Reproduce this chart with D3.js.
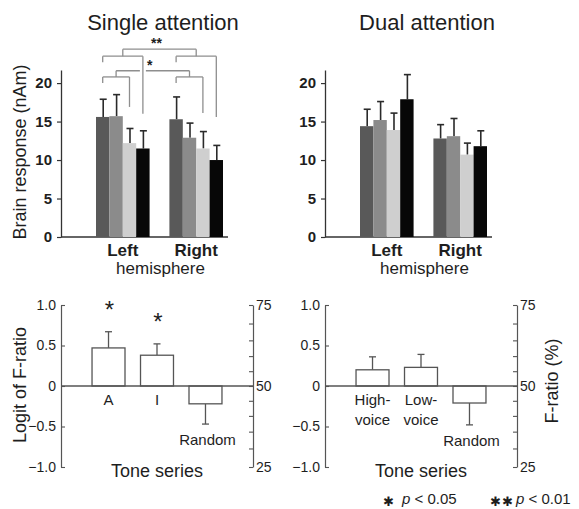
<!DOCTYPE html>
<html lang="en">
<head>
<meta charset="utf-8" />
<title>Brain response and F-ratio</title>
<script src="https://d3js.org/d3.v7.min.js"></script>
<style>
    body { margin: 0; background: white; }
    svg { display: block; }
    text { font-family: 'Liberation Sans', Arial, sans-serif; fill: #1e1e1e; }
</style>
</head>
<body>
<script>
    // ---------- data ----------
    const hemispheres = ["Left", "Right"];
    const series = [0, 1, 2, 3];
    const barColors = ["#595959", "#8b8b8b", "#cfcfcf", "#070707"];

    // brain response (nAm), mean and error
    const singleLeft = [15.6, 15.7, 12.2, 11.5];
    const singleLeftErr = [2.3, 2.8, 1.9, 2.3];
    const singleRight = [15.3, 12.9, 11.5, 10.0];
    const singleRightErr = [2.9, 1.9, 2.2, 1.9];
    const dualLeft = [14.4, 15.2, 13.9, 17.9];
    const dualLeftErr = [2.2, 2.4, 2.2, 3.2];
    const dualRight = [12.8, 13.1, 10.7, 11.8];
    const dualRightErr = [1.8, 2.3, 1.5, 2.0];
    const brainTicks = [0, 5, 10, 15, 20];

    // logit of F-ratio
    const singleSeries = ["A", "I", "Random"];
    const singleLogit = [0.47, 0.38, -0.22];
    const singleLogitErr = [0.20, 0.14, 0.25];
    const singleSig = ["*", "*", ""];
    const dualSeries = ["High-voice", "Low-voice", "Random"];
    const dualLogit = [0.20, 0.23, -0.21];
    const dualLogitErr = [0.16, 0.16, 0.27];
    const dualSig = ["", "", ""];
    const logitTicks = [-1, -0.5, 0, 0.5, 1];
    const pctTicks = [25, 30, 35, 40, 45, 50, 55, 60, 65, 70, 75];
    const pctLabels = [25, 50, 75];

    // significance brackets (single attention), in nAm
    const bracketFrom = [0, 0];          // first bar of each bracket
    const bracketTo = [2, 3];            // last bar
    const bracketLevel = [20.8, 23.5];   // horizontal line
    const bracketStart = [20.0, 22.7];   // end of short leg
    const bracketEndLeft = [16.9, 16.0]; // end of long leg, left hemisphere
    const bracketEndRight = [16.1, 15.6];// end of long leg, right hemisphere
    const bracketTop = [21.6, 24.4];     // connector between hemispheres
    const bracketMark = ["*", "**"];

    // ---------- layout ----------
    const W = 579, H = 509;
    const panelShift = 264;
    const ink = "#333";

    const svg = d3.select("body").append("svg")
        .attr("width", W)
        .attr("height", H);

    // brain response scale, shared by both top panels
    const yTop = d3.scaleLinear().domain([0, 21.7]).range([237, 70]);
    // logit scale for bottom panels
    const yBot = d3.scaleLinear().domain([-1, 1]).range([467, 305]);
    const logit = p => Math.log(p / (1 - p));
    const L75 = logit(0.75);
    const yPct = d3.scaleLinear().domain([-L75, L75]).range([467, 305]);

    function drawTop(dx, title, leftVals, leftErr, rightVals, rightErr) {
        const g = svg.append("g");
        const x0 = d3.scaleBand().domain(hemispheres)
            .range([96 + dx, 223 + dx]).paddingInner(0.27);
        const x1 = d3.scaleBand().domain(series).range([0, x0.bandwidth()]);

        g.append("text")
            .attr("x", 163 + dx).attr("y", 30)
            .attr("text-anchor", "middle")
            .style("font-size", "22px")
            .text(title);

        const axis = g.append("g")
            .attr("transform", `translate(${61 + dx},0)`)
            .call(d3.axisLeft(yTop).tickValues(brainTicks).tickSize(4).tickSizeOuter(0).tickPadding(5));
        axis.select(".domain").attr("stroke", ink).attr("stroke-width", 1.3);
        axis.selectAll(".tick line").attr("stroke", ink).attr("stroke-width", 1.2);
        axis.selectAll("text")
            .style("font-size", "15px").style("font-weight", "bold")
            .style("font-family", "'Liberation Sans', Arial, sans-serif")
            .attr("fill", "#1e1e1e");

        g.append("line")
            .attr("x1", 61 + dx).attr("x2", 228 + dx)
            .attr("y1", yTop(0)).attr("y2", yTop(0))
            .attr("stroke", ink).attr("stroke-width", 1.3);

        const groups = [
            { hemi: "Left", vals: leftVals, errs: leftErr },
            { hemi: "Right", vals: rightVals, errs: rightErr }
        ];

        groups.forEach(gr => {
            const gg = g.append("g").attr("transform", `translate(${x0(gr.hemi)},0)`);
            const items = series.map(i => ({ i, v: gr.vals[i], e: gr.errs[i] }));

            // error bars
            gg.selectAll("line.err").data(items).enter().append("line")
                .attr("class", "err")
                .attr("x1", d => x1(d.i) + x1.bandwidth() / 2 + 0.5)
                .attr("x2", d => x1(d.i) + x1.bandwidth() / 2 + 0.5)
                .attr("y1", d => yTop(d.v))
                .attr("y2", d => yTop(d.v + d.e))
                .attr("stroke", "#2a2a2a").attr("stroke-width", 1.6);
            gg.selectAll("line.cap").data(items).enter().append("line")
                .attr("class", "cap")
                .attr("x1", d => x1(d.i) + x1.bandwidth() / 2 - 3)
                .attr("x2", d => x1(d.i) + x1.bandwidth() / 2 + 4)
                .attr("y1", d => yTop(d.v + d.e))
                .attr("y2", d => yTop(d.v + d.e))
                .attr("stroke", "#2a2a2a").attr("stroke-width", 1.6);

            gg.selectAll("rect").data(items).enter().append("rect")
                .attr("x", d => x1(d.i))
                .attr("y", d => yTop(d.v))
                .attr("width", x1.bandwidth())
                .attr("height", d => yTop(0) - yTop(d.v))
                .attr("fill", d => barColors[d.i]);

            g.append("text")
                .attr("x", x0(gr.hemi) + x0.bandwidth() / 2)
                .attr("y", 256)
                .attr("text-anchor", "middle")
                .style("font-size", "17px").style("font-weight", "bold")
                .text(gr.hemi);
        });

        g.append("text")
            .attr("x", (x0("Left") + x0("Right") + x0.bandwidth()) / 2 + 1)
            .attr("y", 274)
            .attr("text-anchor", "middle")
            .style("font-size", "17px")
            .text("hemisphere");

        return { g, x0, x1 };
    }

    function drawBottom(dx, cats, vals, errs, sig) {
        const g = svg.append("g");
        const x = d3.scaleBand().domain(cats)
            .range([61 + dx, 253 + dx]).paddingInner(0.32).paddingOuter(0.64);

        const la = g.append("g")
            .attr("transform", `translate(${61 + dx},0)`)
            .call(d3.axisLeft(yBot).tickValues(logitTicks).tickSize(-4).tickSizeOuter(0).tickPadding(5)
                .tickFormat(d => d === 0 ? "0" : d3.format(".1f")(d)));
        const ra = g.append("g")
            .attr("transform", `translate(${253 + dx},0)`)
            .call(d3.axisRight(yPct).tickValues(pctTicks.map(p => logit(p / 100))).tickSize(-4).tickSizeOuter(0).tickPadding(3)
                .tickFormat(v => {
                    const p = Math.round(100 / (1 + Math.exp(-v)));
                    return pctLabels.includes(p) ? p : "";
                }));
        [la, ra].forEach(a => {
            a.select(".domain").attr("stroke", "#555").attr("stroke-width", 1.2);
            a.selectAll(".tick line").attr("stroke", "#555").attr("stroke-width", 1.1);
            a.selectAll("text")
                .style("font-size", "14px")
                .style("font-family", "'Liberation Sans', Arial, sans-serif")
                .attr("fill", "#1e1e1e");
        });

        const items = cats.map((c, i) => ({ c, v: vals[i], e: errs[i], s: sig[i] }));

        // error bars
        const tip = d => d.v >= 0 ? d.v + d.e : d.v - d.e;
        g.selectAll("line.err").data(items).enter().append("line")
            .attr("x1", d => x(d.c) + x.bandwidth() / 2)
            .attr("x2", d => x(d.c) + x.bandwidth() / 2)
            .attr("y1", d => yBot(d.v))
            .attr("y2", d => yBot(tip(d)))
            .attr("stroke", "#555").attr("stroke-width", 1.3);
        g.selectAll("line.cap").data(items).enter().append("line")
            .attr("x1", d => x(d.c) + x.bandwidth() / 2 - 3.5)
            .attr("x2", d => x(d.c) + x.bandwidth() / 2 + 3.5)
            .attr("y1", d => yBot(tip(d)))
            .attr("y2", d => yBot(tip(d)))
            .attr("stroke", "#555").attr("stroke-width", 1.3);

        g.selectAll("rect").data(items).enter().append("rect")
            .attr("x", d => x(d.c))
            .attr("y", d => yBot(Math.max(d.v, 0)))
            .attr("width", x.bandwidth())
            .attr("height", d => Math.abs(yBot(d.v) - yBot(0)))
            .attr("fill", "white")
            .attr("stroke", "#555").attr("stroke-width", 1.3);

        // zero line
        g.append("line")
            .attr("x1", 61 + dx).attr("x2", 253 + dx)
            .attr("y1", yBot(0)).attr("y2", yBot(0))
            .attr("stroke", "#555").attr("stroke-width", 1.3);

        // category labels
        items.forEach(d => {
            const cx = x(d.c) + x.bandwidth() / 2;
            if (d.v < 0) {
                g.append("text").attr("x", cx + 2).attr("y", yBot(tip(d)) + 21)
                    .attr("text-anchor", "middle").style("font-size", "15px").text(d.c);
            } else {
                const parts = d.c.includes("-") ? [d.c.slice(0, d.c.indexOf("-") + 1), d.c.slice(d.c.indexOf("-") + 1)] : [d.c];
                parts.forEach((p, k) => {
                    g.append("text").attr("x", cx).attr("y", yBot(0) + 19 + k * 19.5)
                        .attr("text-anchor", "middle").style("font-size", "15px").text(p);
                });
            }
            if (d.s) {
                g.append("text").attr("x", cx + 1).attr("y", yBot(tip(d)) - 27 + 13)
                    .attr("text-anchor", "middle")
                    .style("font-size", "24px")
                    .text(d.s);
            }
        });

        g.append("text")
            .attr("x", 157 + dx).attr("y", 477)
            .attr("text-anchor", "middle")
            .style("font-size", "18px")
            .text("Tone series");
        return g;
    }

    const single = drawTop(0, "Single attention", singleLeft, singleLeftErr, singleRight, singleRightErr);
    drawTop(panelShift, "Dual attention", dualLeft, dualLeftErr, dualRight, dualRightErr);
    drawBottom(0, singleSeries, singleLogit, singleLogitErr, singleSig);
    drawBottom(panelShift, dualSeries, dualLogit, dualLogitErr, dualSig);

    // ---------- significance brackets ----------
    const bg = svg.append("g").attr("fill", "none");
    const bStroke = "#8e8e8e";
    const barX = (hemi, i) => single.x0(hemi) + single.x1(i) + single.x1.bandwidth() / 2;
    const seg = (x1, y1, x2, y2, w) => bg.append("line")
        .attr("x1", x1).attr("y1", y1).attr("x2", x2).attr("y2", y2)
        .attr("stroke", bStroke).attr("stroke-width", w || 1.3);

    bracketLevel.forEach((lvl, k) => {
        const mids = hemispheres.map(h => {
            const a = barX(h, bracketFrom[k]), b = barX(h, bracketTo[k]);
            const endB = h === "Left" ? bracketEndLeft[k] : bracketEndRight[k];
            seg(a, yTop(lvl), b, yTop(lvl));
            seg(a, yTop(lvl), a, yTop(bracketStart[k]));
            // long leg, with a white gap where it crosses other lines
            bg.append("line")
                .attr("x1", b).attr("x2", b)
                .attr("y1", yTop(lvl) + 4).attr("y2", yTop(endB))
                .attr("stroke", "white").attr("stroke-width", 6);
            seg(b, yTop(lvl), b, yTop(endB));
            return (a + b) / 2;
        });
        seg(mids[0], yTop(bracketTop[k]), mids[1], yTop(bracketTop[k]));
        mids.forEach(m => seg(m, yTop(bracketTop[k]), m, yTop(lvl)));
        svg.append("text")
            .attr("x", (mids[0] + mids[1]) / 2 - 3)
            .attr("y", yTop(bracketTop[k]) - 1)
            .attr("text-anchor", "middle")
            .style("font-size", "14px").style("font-weight", "bold")
            .text(bracketMark[k]);
    });

    // ---------- axis titles ----------
    svg.append("text")
        .attr("transform", "translate(26,152) rotate(-90)")
        .attr("text-anchor", "middle")
        .style("font-size", "18px")
        .text("Brain response (nAm)");
    svg.append("text")
        .attr("transform", "translate(26,385) rotate(-90)")
        .attr("text-anchor", "middle")
        .style("font-size", "18px")
        .text("Logit of F-ratio");
    svg.append("text")
        .attr("transform", "translate(558,381) rotate(-90)")
        .attr("text-anchor", "middle")
        .style("font-size", "18px")
        .text("F-ratio (%)");

    // ---------- footnote ----------
    const foot = svg.append("g");
    foot.append("text").attr("x", 388).attr("y", 506)
        .attr("text-anchor", "middle")
        .style("font-size", "13px").text("\u2731");
    foot.append("text").attr("x", 402).attr("y", 504)
        .style("font-size", "15px")
        .html('<tspan font-style="italic">p</tspan> &lt; 0.05');
    foot.append("text").attr("x", 502).attr("y", 506)
        .attr("text-anchor", "middle")
        .style("font-size", "13px").style("letter-spacing", "1px").text("\u2731\u2731");
    foot.append("text").attr("x", 516).attr("y", 504)
        .style("font-size", "15px")
        .html('<tspan font-style="italic">p</tspan> &lt; 0.01');
</script>
</body>
</html>
